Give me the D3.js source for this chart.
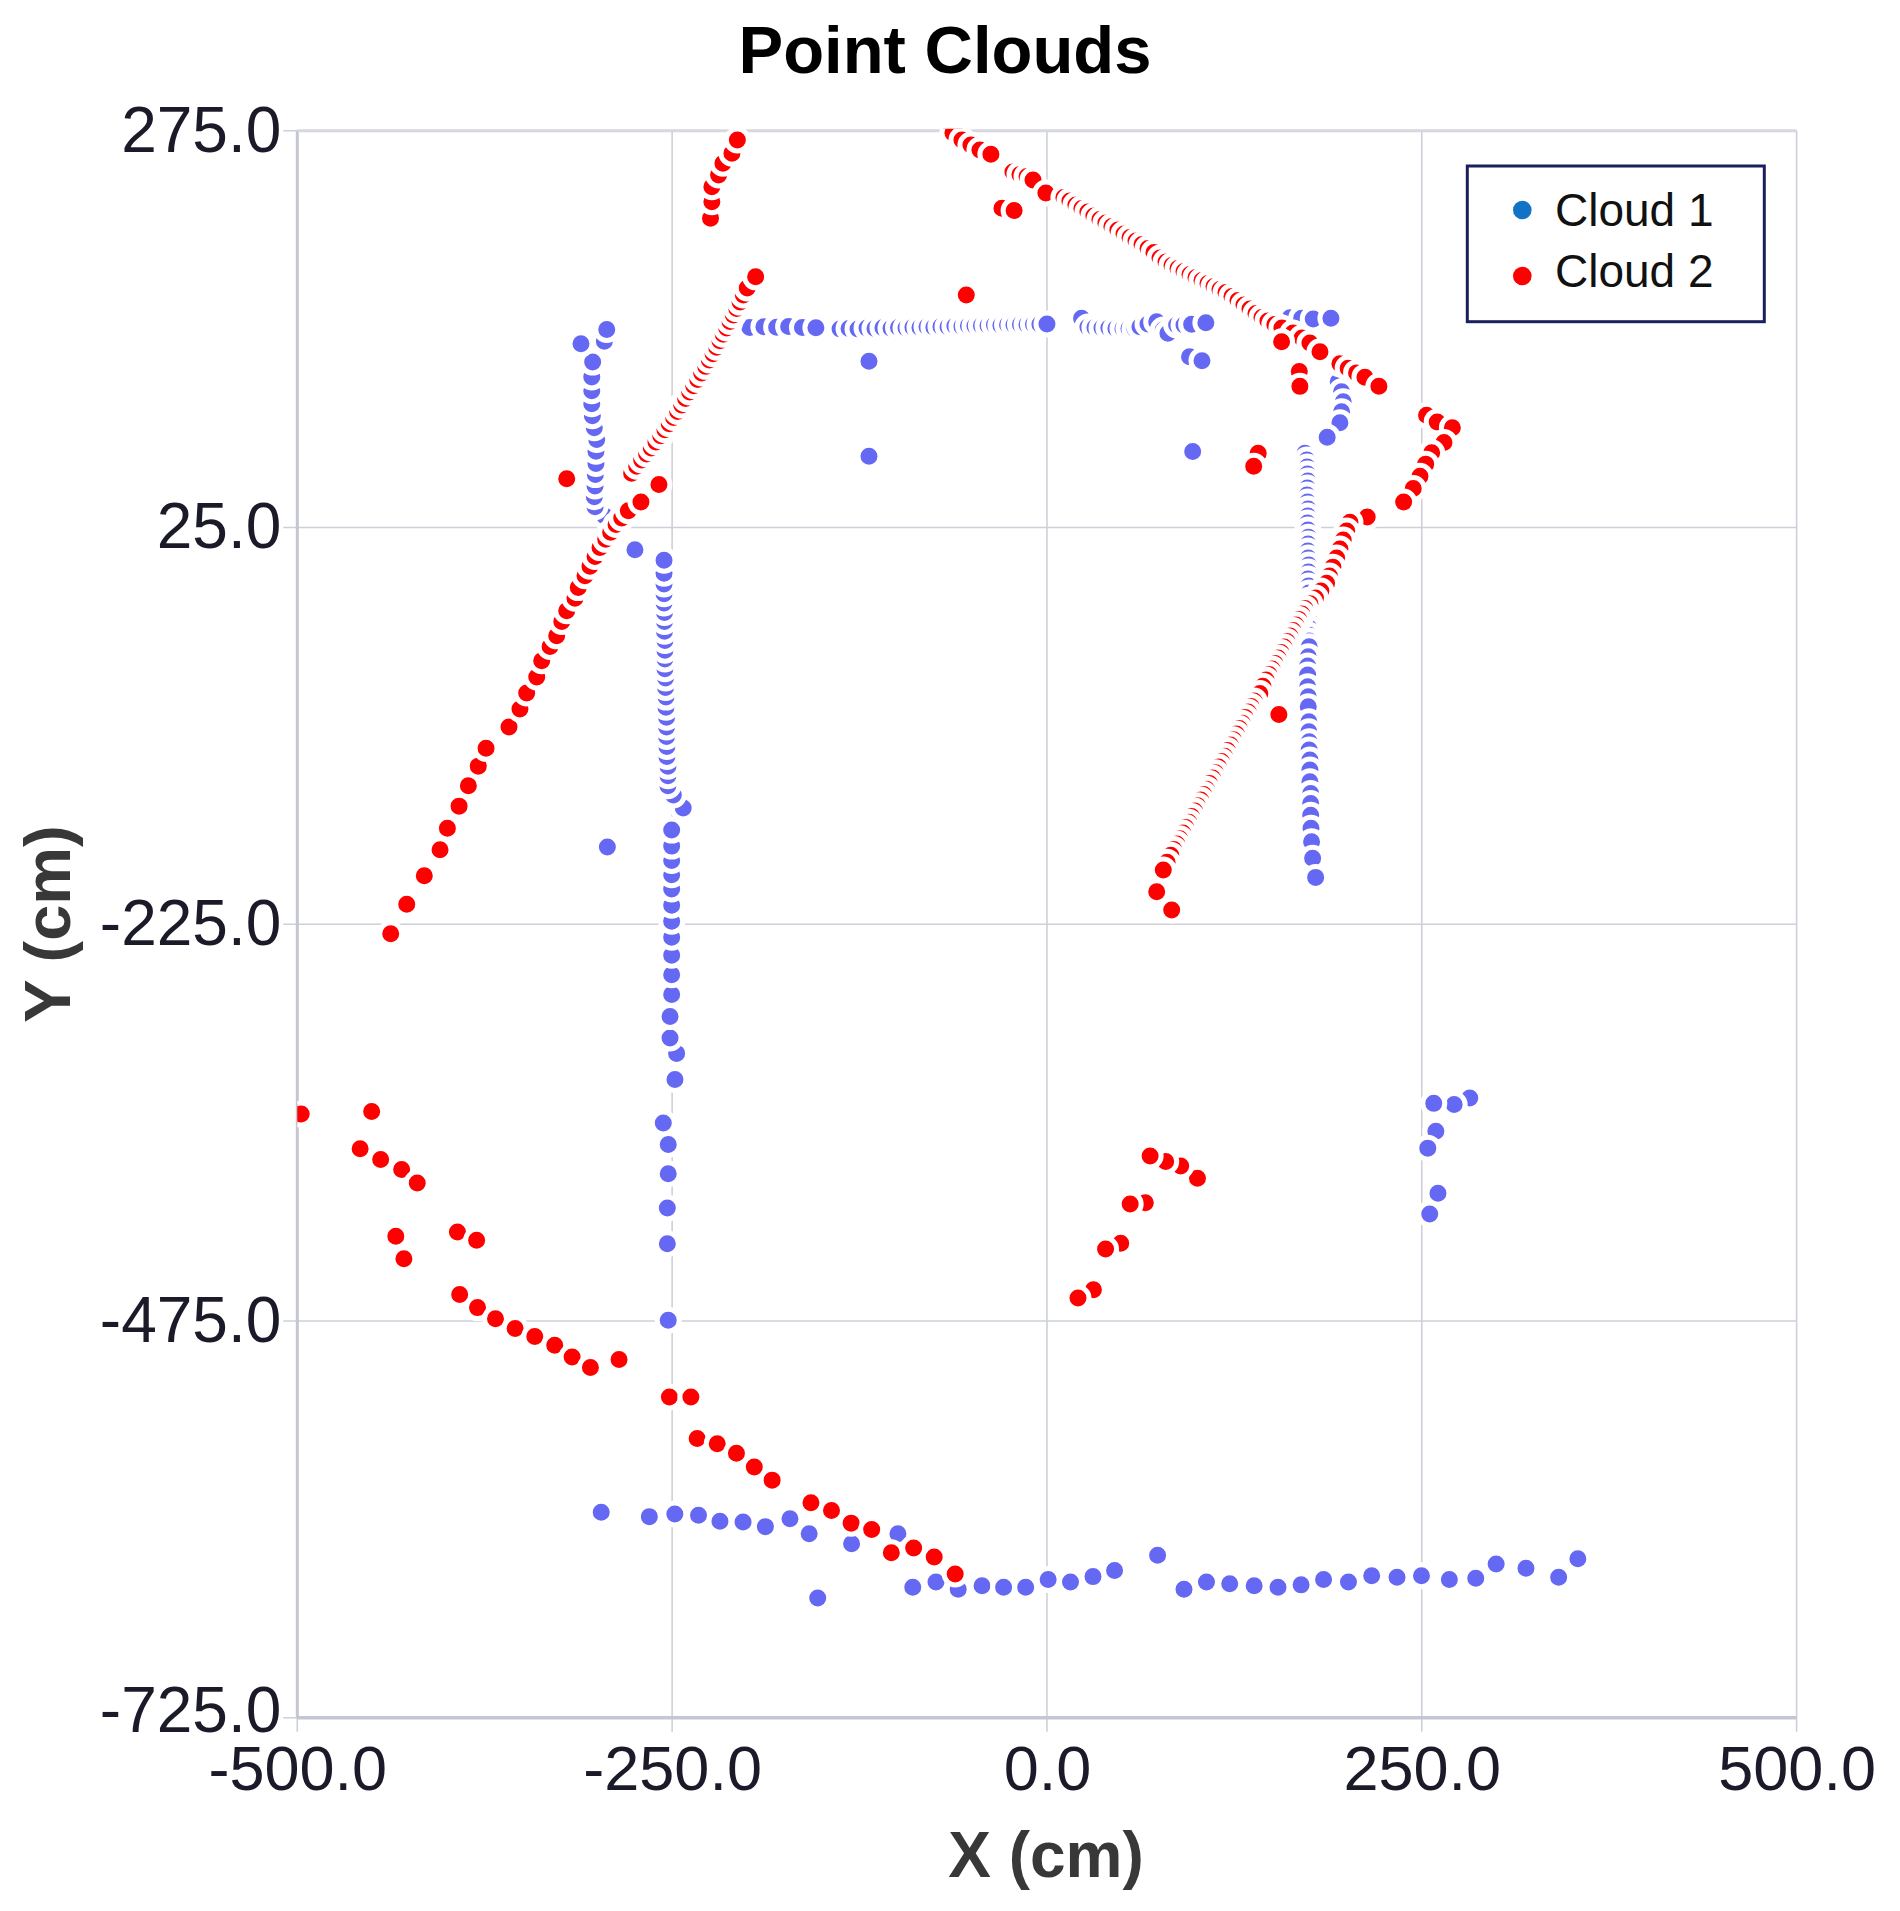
<!DOCTYPE html>
<html><head><meta charset="utf-8">
<script src="https://cdn.jsdelivr.net/npm/d3@7"></script>
<style>html,body{margin:0;padding:0;background:#fff;} svg{display:block;}</style>
</head><body>
<script>
// ---------------- DATA ----------------
const chartTitle = "Point Clouds";
const xTitle = "X (cm)", yTitle = "Y (cm)";
const seriesNames = ["Cloud 1", "Cloud 2"];
const xTicks = [-500, -250, 0, 250, 500];
const xTickLabels = ["-500.0", "-250.0", "0.0", "250.0", "500.0"];
const yTicks = [275, 25, -225, -475, -725];
const yTickLabels = ["275.0", "25.0", "-225.0", "-475.0", "-725.0"];

// Cloud 1 (blue), segments in scan order
const c1LeftShort = [[-294.8,32.0],[-301.4,38.1],[-301.9,44.4],[-301.4,51.1],[-301.2,58.3],[-300.8,65.3],[-300.8,73.0],[-300.3,80.4],[-301.9,87.8],[-303.2,95.4],[-303.6,102.9],[-303.6,111.2],[-303.6,119.8],[-303.0,129.2],[-310.8,140.7],[-295.2,142.3],[-293.6,149.7]];
const c1TopLeft = [[-206.2,151.8],[-198.2,151.0],[-188.8,151.5],[-180.3,151.2],[-172.3,151.6],[-163.1,151.0],[-154.1,150.9]];
const c1TopMid = [[-138.0,150.0],[-132.0,150.3],[-126.0,150.1],[-120.0,150.6],[-114.7,150.4],[-109.4,150.8],[-104.0,150.5],[-99.0,151.0],[-94.0,150.7],[-89.4,151.2],[-84.7,151.0],[-80.0,151.4],[-75.4,151.2],[-70.7,151.6],[-66.0,151.5],[-61.4,151.9],[-56.7,151.7],[-52.4,152.1],[-48.0,151.9],[-43.7,152.3],[-39.3,152.2],[-35.0,152.5],[-30.7,152.4],[-26.3,152.7],[-22.0,152.6],[-17.7,152.9],[-13.3,152.8],[-9.0,153.0],[-4.7,153.1],[0.0,153.2]];
const c1TopRight = [[23.1,156.8],[27.3,151.3],[32.0,151.0],[36.7,150.7],[41.3,150.7],[46.0,150.3],[50.7,150.3],[54.7,150.3],[58.7,150.0],[62.0,151.5],[67.4,153.2],[73.2,154.6],[77.6,149.4],[80.7,147.3],[86.5,152.6],[91.4,152.6],[96.5,153.0],[106.0,154.0]];
const c1FarRight = [[162.1,157.2],[169.9,156.8],[177.6,156.3],[189.4,156.8]];
const c1RightVertical = [[194.3,116.8],[196.5,110.5],[197.6,104.2],[196.5,97.9],[195.4,91.0],[186.9,81.8],[172.1,71.7],
  [173.4,67.5],[173.6,63.1],[173.8,58.7],[174.0,54.2],[173.7,49.8],[173.5,45.4],[173.9,41.0],[174.2,36.6],[174.0,32.2],[173.8,27.8],[174.1,23.4],[174.4,18.9],[174.2,14.5],[174.0,10.1],[174.3,5.7],[174.6,1.3],[174.4,-3.1],[174.2,-7.5],[174.5,-11.9],[174.8,-16.3],[174.6,-20.8],[174.4,-25.2],[174.7,-29.6],[175.0,-34.0],[174.8,-38.4],[174.6,-42.8],[174.9,-46.6],
  [174.9,-50.2],[174.3,-56.5],[173.9,-62.3],[173.9,-68.0],[173.9,-75.4],[174.3,-81.7],[174.3,-88.0],[174.7,-97.4],[174.7,-103.8],[174.9,-110.1],[174.9,-115.3],[175.4,-121.6],[175.4,-127.9],[175.4,-135.3],[175.9,-142.6],[175.9,-148.9],[175.9,-156.3],[176.1,-164.6],[176.5,-173.1],[177.2,-183.5],[179.2,-195.5]];
const c1LongSparse = [[-252.6,-474.5],[-253.2,-426.4],[-253.2,-403.9],[-252.6,-382.2],[-252.6,-363.8],[-255.9,-350.3]];
const c1LongLower = [[-248.1,-322.8],[-247.0,-306.4],[-251.4,-296.7],[-251.4,-283.2],[-250.3,-269.3],[-250.3,-256.8],[-250.3,-244.5],[-250.3,-233.2],[-250.3,-223.1],[-250.3,-213.0],[-250.3,-202.8],[-250.3,-193.8],[-250.3,-184.9],[-250.3,-175.8],[-250.3,-165.7]];
const c1LongUpper = [[-242.6,-151.8],[-249.2,-143.6],[-252.8,-137.8],[-252.8,-131.5],[-252.8,-125.4],[-253.5,-119.3],[-253.5,-113.0],[-253.7,-106.7],[-253.7,-100.7],[-253.7,-94.6],[-254.1,-88.3],[-254.1,-81.9],[-254.4,-75.9],[-254.4,-69.9],[-254.8,-64.0],[-254.8,-57.9],[-254.8,-52.3],[-254.8,-46.2],[-255.1,-40.4],[-255.1,-34.2],[-255.1,-28.6],[-255.4,-22.6],[-255.4,-16.7],[-255.4,-10.6],[-255.4,-3.9],[-255.4,4.4]];
const c1Isolated = [[-274.8,11.0],[-118.7,129.7],[-118.7,69.9],[-293.2,-176.3],[95.1,132.6],[103.4,130.1],[97.2,72.8]];
const c1Bottom = [[-297.3,-595.6],[-265.2,-598.3],[-248.2,-596.7],[-232.4,-597.4],[-218.1,-601.2],[-202.7,-601.7],[-187.8,-604.6],[-171.4,-599.7],[-158.6,-609.1],[-152.9,-649.6],[-130.3,-615.4],[-99.4,-609.1],[-89.5,-642.8],[-74.0,-639.5],[-59.2,-644.0],[-43.3,-641.8],[-28.9,-642.8],[-14.2,-642.8],[0.8,-637.9],[15.7,-639.5],[30.7,-636.1],[45.1,-632.3],[73.8,-622.6],[91.4,-644.0],[106.4,-639.5],[121.9,-640.6],[138.2,-641.8],[154.1,-642.8],[169.5,-641.3],[184.5,-637.9],[201.1,-639.5],[216.6,-635.6],[233.5,-636.5],[249.8,-635.6],[268.4,-637.9],[286.0,-637.2],[299.6,-628.2],[319.5,-630.9],[341.3,-636.5],[354.1,-624.9]];
const c1RightCluster = [[282.0,-334.5],[271.6,-338.6],[258.0,-337.9],[259.4,-355.5],[254.0,-366.1],[260.8,-394.6],[255.3,-407.6]];

// Cloud 2 (red)
const c2TopLeftArc = [[-224.4,219.8],[-223.5,230.3],[-223.5,239.7],[-219.0,247.1],[-216.1,254.5],[-210.1,260.8],[-206.5,269.1]];
const c2TopHead = [[-62.7,273.6],[-56.7,269.1],[-50.7,266.0],[-44.7,262.8],[-37.4,260.1],[-22.7,249.0],[-18.0,247.4],[-13.3,246.1],[-9.3,243.9],[-0.7,235.7]];
const c2TopPair = [[-30.0,226.1],[-21.9,224.7]];
const c2TopDiagonal = [[11.3,232.9],[15.3,230.7],[19.3,228.2],[23.3,226.0],[27.3,223.8],[31.3,221.2],[35.3,219.0],[39.3,216.8],[43.3,214.6],[47.3,212.4],[51.4,209.9],[55.4,207.7],[59.4,205.5],[63.4,203.3],[67.4,200.8],[71.4,198.2],[75.4,194.8],[79.4,192.3],[83.4,190.1],[87.4,188.2],[91.4,186.3],[95.4,184.4],[99.4,182.5],[103.4,180.6],[107.4,178.7],[111.4,176.8],[115.4,174.9],[119.4,173.0],[123.4,170.5],[127.4,168.0],[131.4,165.2],[135.4,162.6],[139.4,159.8],[143.4,157.3],[147.4,155.1],[152.0,152.9],[156.7,150.7],[164.1,147.5],[170.1,144.4],[175.4,141.2],[182.1,135.7]];
const c2RightArm = [[195.4,128.1],[200.9,125.3],[206.5,122.4],[212.1,119.7],[221.4,114.0]];
const c2Isolated = [[156.5,142.0],[168.3,123.3],[168.7,113.9],[140.9,71.8],[137.9,63.5],[-53.8,171.5],[-320.3,55.7]];
const c2LeftDense = [[-277.0,59.2],[-273.6,63.6],[-270.3,67.5],[-267.0,71.3],[-263.9,75.1],[-260.8,78.9],[-257.6,82.8],[-254.8,86.6],[-251.9,90.4],[-249.0,94.3],[-246.3,98.1],[-243.6,102.1],[-241.0,106.2],[-238.3,110.3],[-235.6,114.3],[-232.9,118.3],[-230.3,122.4],[-227.6,126.5],[-225.2,130.5],[-222.7,134.5],[-220.3,138.6],[-218.1,142.7],[-215.9,146.7],[-213.6,150.7],[-211.4,154.8],[-209.2,158.9],[-206.9,162.9],[-204.7,167.0],[-202.5,171.5],[-199.9,175.9],[-194.3,182.9]];
const c2LeftSparse = [[-437.7,-231.0],[-427.0,-212.5],[-415.3,-194.5],[-404.8,-178.1],[-399.9,-164.6],[-392.1,-150.6],[-385.9,-137.8],[-379.3,-125.4],[-374.1,-114.2],[-358.8,-100.7],[-351.5,-89.4],[-347.0,-79.3],[-340.3,-69.2],[-337.0,-59.0],[-331.4,-50.0],[-327.0,-43.3],[-323.6,-34.2],[-320.3,-27.5],[-314.8,-19.6],[-312.6,-12.9],[-308.1,-5.4],[-304.8,0.6],[-301.4,6.7],[-298.1,12.3],[-294.3,17.5],[-291.0,22.0],[-287.4,26.9],[-283.6,31.0],[-279.2,35.5],[-270.8,41.1],[-258.8,52.0]];
const c2BottomLeft = [[-497.4,-344.6],[-450.4,-343.0],[-458.1,-366.5],[-444.4,-373.2],[-430.4,-379.5],[-420.0,-388.1],[-434.3,-421.6],[-428.9,-435.8],[-393.2,-418.9],[-380.4,-424.1],[-391.7,-458.3],[-379.8,-466.6],[-367.8,-473.6],[-354.7,-479.7],[-341.6,-484.8],[-328.3,-490.3],[-316.7,-497.7],[-304.5,-504.4],[-285.4,-499.3],[-251.8,-522.9],[-237.5,-522.9],[-233.3,-549.0],[-219.9,-552.4],[-207.1,-558.4],[-195.2,-567.0],[-183.3,-575.3],[-157.4,-589.5],[-143.7,-594.5],[-130.6,-602.4],[-116.9,-606.4],[-103.8,-621.0],[-88.9,-618.1],[-75.2,-623.7],[-61.2,-634.5]];
const c2RightUpper = [[253.2,95.7],[260.3,91.5],[270.4,87.8],[264.8,78.6],[256.6,72.1],[252.6,64.9],[248.8,57.2],[244.3,49.5],[237.9,41.0]];
const c2RightDiagonal = [[213.6,31.6],[202.1,28.2],[199.9,22.7],[197.6,17.1],[195.4,11.4],[193.2,5.7],[190.7,0.0],[188.4,-5.6],[186.5,-10.2],[182.7,-15.1],[179.1,-19.5],[175.4,-23.0],[172.1,-26.0],
  [170.0,-29.6],[168.0,-33.0],[166.0,-36.5],[164.1,-40.0],[162.1,-43.4],[160.1,-46.9],[158.1,-50.4],[156.1,-53.8],[154.1,-57.3],[152.1,-60.8],[150.1,-64.2],[148.1,-67.7],[146.1,-71.2],[144.0,-75.0],[142.0,-79.6],
  [138.2,-84.4],[136.2,-87.9],[134.2,-91.3],[132.2,-94.8],[130.2,-98.3],[128.3,-101.7],[126.3,-105.2],[124.3,-108.7],[122.3,-112.1],[120.4,-115.6],[118.4,-119.1],[116.4,-122.5],[114.4,-126.0],[112.4,-129.5],[110.4,-132.9],[108.4,-136.4],[106.4,-139.9],[104.5,-143.3],[102.5,-146.8],[100.5,-150.3],[98.5,-153.7],[96.5,-157.2],[94.6,-160.7],[92.6,-164.1],[90.6,-167.6],[88.6,-171.1],[86.6,-174.5],[84.6,-178.0],[82.6,-181.5],[80.1,-185.9],[77.6,-190.9]];
const c2RightDiagonalEnds = [[73.2,-204.6],[83.2,-216.1],[154.7,-92.8]];
const c2BottomMid = [[100.4,-385.1],[89.2,-377.3],[79.2,-374.5],[68.8,-371.0],[65.6,-400.5],[55.5,-401.3],[49.2,-426.1],[39.1,-429.7],[31.0,-455.3],[20.7,-460.6]];

const cloud1 = [c1LeftShort, c1TopLeft, c1TopMid, c1TopRight, c1FarRight, c1RightVertical, c1LongSparse, c1LongLower, c1LongUpper, c1Isolated, c1Bottom, c1RightCluster];
const cloud2 = [c2TopLeftArc, c2TopHead, c2TopPair, c2TopDiagonal, c2RightArm, c2Isolated, c2LeftDense, c2LeftSparse, c2BottomLeft, c2RightUpper, c2RightDiagonal, c2RightDiagonalEnds, c2BottomMid];

const pointColors = ["#6568f2", "#ff0000"];
const legendColors = ["#1272c6", "#ff0000"];

// ---------------- CHART ----------------
const W = 1900, H = 1911;
const svg = d3.select("body").append("svg").attr("width", W).attr("height", H)
  .style("font-family", "'Liberation Sans', Arial, Helvetica, sans-serif");
svg.append("rect").attr("width", W).attr("height", H).attr("fill", "#fff");

const x = d3.scaleLinear().domain([-500, 500]).range([297.3, 1796.6]);
const y = d3.scaleLinear().domain([-725, 275]).range([1717.7, 130.7]);

// grid
const grid = svg.append("g");
grid.selectAll("line.gv").data(xTicks).join("line").attr("class", "gv")
  .attr("x1", d => x(d)).attr("x2", d => x(d))
  .attr("y1", y(275)).attr("y2", y(-725) + 14)
  .attr("stroke", "#cdd0d8").attr("stroke-width", 1.6);
grid.selectAll("line.gh").data(yTicks).join("line").attr("class", "gh")
  .attr("x1", x(-500) - 14).attr("x2", x(500))
  .attr("y1", d => y(d)).attr("y2", d => y(d))
  .attr("stroke", "#cdd0d8").attr("stroke-width", 1.6);
// frame lines
grid.append("line").attr("x1", x(-500)).attr("x2", x(-500)).attr("y1", y(275)).attr("y2", y(-725))
  .attr("stroke", "#c4c7d1").attr("stroke-width", 3);
grid.append("line").attr("x1", x(-500)).attr("x2", x(500)).attr("y1", y(-725)).attr("y2", y(-725))
  .attr("stroke", "#c4c7d1").attr("stroke-width", 3.5);
grid.append("line").attr("x1", x(-500)).attr("x2", x(500)).attr("y1", y(275)).attr("y2", y(275))
  .attr("stroke", "#d6d8e0").attr("stroke-width", 3);

// points
svg.append("defs").append("clipPath").attr("id", "plotclip").append("rect")
  .attr("x", x(-500)).attr("y", y(275) - 2).attr("width", x(500) - x(-500)).attr("height", y(-725) - y(275) + 2);
const plot = svg.append("g").attr("clip-path", "url(#plotclip)");
[cloud1, cloud2].forEach((cloud, ci) => {
  plot.append("g").selectAll("circle").data(cloud.flat()).join("circle")
    .attr("cx", d => x(d[0])).attr("cy", d => y(d[1])).attr("r", 11)
    .attr("fill", pointColors[ci]).attr("stroke", "#fff").attr("stroke-width", 5);
});

// axes labels
const xAxis = d3.axisBottom(x).tickValues(xTicks).tickFormat((d, i) => xTickLabels[i]).tickSize(0).tickPadding(27.6);
const gx = svg.append("g").attr("transform", `translate(0,${y(-725)})`).call(xAxis);
gx.select(".domain").remove();
gx.selectAll("text").attr("font-size", 63).attr("fill", "#1a1a28").attr("font-family", "'Liberation Sans', Arial, sans-serif");

const yAxis = d3.axisLeft(y).tickValues(yTicks).tickFormat((d, i) => yTickLabels[i]).tickSize(0).tickPadding(16);
const gy = svg.append("g").attr("transform", `translate(${x(-500)},0)`).call(yAxis);
gy.select(".domain").remove();
gy.selectAll("text").attr("font-size", 64).attr("fill", "#1a1a28").attr("font-family", "'Liberation Sans', Arial, sans-serif");
// the lowest y label sits a little higher so it clears the first x label
gy.selectAll("text").filter((d, i) => i === yTicks.length - 1).attr("dy", "0.22em");

// titles
svg.append("text").attr("x", 945).attr("y", 73).attr("text-anchor", "middle")
  .attr("font-size", 67).attr("font-weight", "bold").attr("fill", "#000").text(chartTitle);
svg.append("text").attr("x", 1046).attr("y", 1877).attr("text-anchor", "middle")
  .attr("font-size", 64).attr("font-weight", "bold").attr("fill", "#383838").text(xTitle);
svg.append("text").attr("transform", "translate(70,924) rotate(-90)").attr("text-anchor", "middle")
  .attr("font-size", 65).attr("font-weight", "bold").attr("fill", "#383838").text(yTitle);

// legend
const lg = svg.append("g");
lg.append("rect").attr("x", 1467.3).attr("y", 166).attr("width", 297).attr("height", 155.7)
  .attr("fill", "#fff").attr("stroke", "#1b1f5e").attr("stroke-width", 3);
seriesNames.forEach((name, i) => {
  lg.append("circle").attr("cx", 1522.3).attr("cy", 210 + i * 66).attr("r", 9.3).attr("fill", legendColors[i]);
  lg.append("text").attr("x", 1555).attr("y", 226 + i * 61).attr("font-size", 46).attr("fill", "#111").text(name);
});
</script>
</body></html>
